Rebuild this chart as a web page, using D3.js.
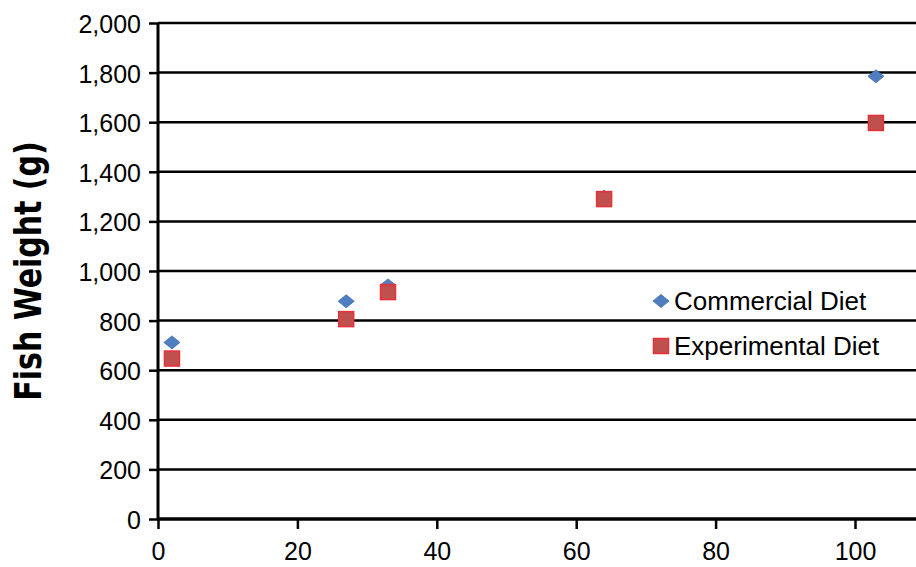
<!DOCTYPE html>
<html>
<head>
<meta charset="utf-8">
<script src="https://cdn.jsdelivr.net/npm/d3@7"></script>
<style>
  body { margin: 0; background: #fff; }
  svg { display: block; }
</style>
</head>
<body>
<svg id="chart"></svg>
<script>
// days vs weight
const days = [2, 27, 33, 64, 103];
const commercial = [712, 878, 942, 1300, 1785];
const experimental = [647, 806, 915, 1290, 1597];
const xTicks = [0, 20, 40, 60, 80, 100];
const yTicks = [0, 200, 400, 600, 800, 1000, 1200, 1400, 1600, 1800, 2000];
const seriesNames = ['Commercial Diet', 'Experimental Diet'];

const width = 916, height = 567;
const margin = { top: 23, left: 158, bottom: 48 };

const svg = d3.select('#chart')
  .attr('width', width)
  .attr('height', height);

const x = d3.scaleLinear()
  .domain([0, 100])
  .range([margin.left, 855]);

const y = d3.scaleLinear()
  .domain([0, 2000])
  .range([height - margin.bottom, margin.top]);

const font = '"Liberation Sans", Arial, sans-serif';

// gridlines
svg.append('g')
  .selectAll('line')
  .data(yTicks.slice(1))
  .enter().append('line')
  .attr('x1', margin.left)
  .attr('x2', width)
  .attr('y1', d => y(d))
  .attr('y2', d => y(d))
  .attr('stroke', '#000')
  .attr('stroke-width', 2.5);

// y axis
const yAxis = svg.append('g')
  .attr('transform', `translate(${margin.left},0)`)
  .call(d3.axisLeft(y).tickValues(yTicks).tickFormat(d3.format(',')).tickSize(9).tickPadding(8));
yAxis.select('.domain').attr('stroke-width', 3).attr('d', `M0,${y(0)}V${y(2000)}`);
yAxis.selectAll('.tick line').attr('stroke-width', 2.5);
yAxis.selectAll('text').attr('font-family', font).attr('font-size', 25).attr('fill', '#000').attr('dy', '0.38em');

// x axis
const xAxis = svg.append('g')
  .attr('transform', `translate(0,${y(0)})`)
  .call(d3.axisBottom(x).tickValues(xTicks).tickSize(10).tickPadding(13));
xAxis.select('.domain').attr('stroke-width', 3.5).attr('d', `M${margin.left},0H${width}`);
xAxis.selectAll('.tick line').attr('stroke-width', 2.5);
xAxis.selectAll('text').attr('font-family', font).attr('font-size', 25).attr('fill', '#000');

// y title
svg.append('text')
  .attr('transform', `translate(41,${(y(0) + y(2000)) / 2}) rotate(-90) scale(1,1.25)`)
  .attr('text-anchor', 'middle')
  .attr('font-family', '"DejaVu Sans", sans-serif')
  .attr('font-weight', 'bold')
  .attr('font-size', 30)
  .text('Fish Weight (g)');

// wide diamond marker
const dw = 8, dh = 6.5;
const diamondPath = `M0,${-dh}L${dw},0L0,${dh}L${-dw},0Z`;

// commercial diet
svg.append('g')
  .selectAll('path')
  .data(days.map((d, i) => [d, commercial[i]]))
  .enter().append('path')
  .attr('d', diamondPath)
  .attr('transform', d => `translate(${x(d[0])},${y(d[1])})`)
  .attr('fill', '#4f7fc0')
  .attr('stroke', '#3f69a8')
  .attr('stroke-width', 0.8);

// experimental diet
const sq = 15;
svg.append('g')
  .selectAll('rect')
  .data(days.map((d, i) => [d, experimental[i]]))
  .enter().append('rect')
  .attr('x', d => x(d[0]) - sq / 2)
  .attr('y', d => y(d[1]) - sq / 2)
  .attr('width', sq)
  .attr('height', sq)
  .attr('fill', '#c0504d')
  .attr('stroke', '#e8303a')
  .attr('stroke-width', 1.5);

// legend
const legend = svg.append('g').attr('transform', 'translate(661,301)');
legend.append('path')
  .attr('d', diamondPath)
  .attr('fill', '#4f7fc0')
  .attr('stroke', '#3f69a8')
  .attr('stroke-width', 0.8);
legend.append('rect')
  .attr('x', -sq / 2)
  .attr('y', 45 - sq / 2)
  .attr('width', sq)
  .attr('height', sq)
  .attr('fill', '#c0504d')
  .attr('stroke', '#e8303a')
  .attr('stroke-width', 1.5);
legend.selectAll('text')
  .data(seriesNames)
  .enter().append('text')
  .attr('x', 13)
  .attr('y', (d, i) => i * 45 + 9)
  .attr('font-family', font)
  .attr('font-size', 26)
  .text(d => d);
</script>
</body>
</html>
